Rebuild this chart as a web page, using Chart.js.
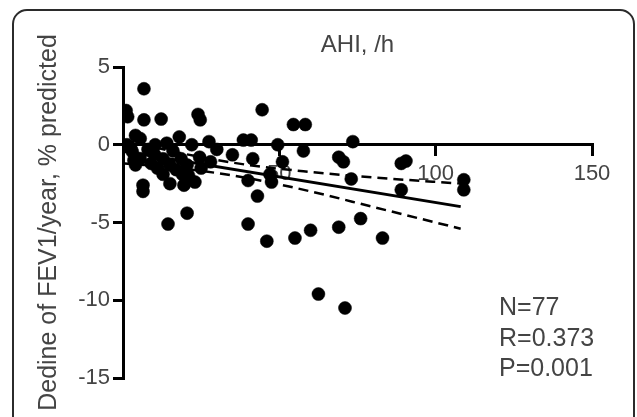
<!DOCTYPE html>
<html>
<head>
<meta charset="utf-8">
<script src="https://cdn.jsdelivr.net/npm/chart.js@4"></script>
<style>
  html, body { margin: 0; padding: 0; background: #fff; overflow: hidden; }
  #wrap { position: relative; width: 637px; height: 417px; }
  #frame {
    position: absolute; left: 12px; top: 9px; width: 619px; height: 480px;
    border: 2px solid #2b2b2b; border-radius: 15px;
  }
  #c { position: absolute; left: 0; top: 0; }
</style>
</head>
<body>
<div id="wrap">
  <div id="frame"></div>
  <canvas id="c" width="637" height="417"></canvas>
</div>
<script>
// AHI (events/h) on x, yearly FEV1 decline (% predicted) on y
const ahi = [0.5, 1, 1.5, 1.3, 2.5, 3, 3.5, 4, 4, 5.5, 5.5, 6.4, 6.4, 6.7, 6.7, 8, 9, 10, 10.3, 11,
  12.2, 12.8, 12.8, 14, 14.4, 15, 15, 16, 17, 18, 18.6, 19, 19.5, 20.5, 20.5, 21, 22, 23, 24, 24.5,
  24.7, 25, 27.5, 28, 30, 35, 40, 40, 41, 41.5, 43, 38.5, 44.5, 46, 47, 47.5, 49.5, 51, 54.5, 55,
  57.7, 58.3, 60, 62.5, 69, 69, 70.5, 71, 73, 73.5, 76, 83, 89, 89, 90.5, 109, 109];
const decline = [-0.1, 2.2, 1.8, 0.0, -0.2, -0.45, -1.0, -1.3, 0.6, 0.4, -0.9, -2.6, -3.0, 3.6, 1.6, -0.3, -1.2, -0.6, 0.0, -1.5,
  1.65, -0.9, -1.9, 0.1, -5.1, -1.3, -2.5, -0.4, -1.6, 0.5, -0.9, -1.9, -2.6, -1.3, -4.4, -2.0, 0.0, -2.4, 1.95, -0.8,
  1.6, -1.5, 0.2, -1.1, -0.3, -0.65, -2.3, -5.1, 0.3, -0.9, -3.3, 0.3, 2.25, -6.2, -1.9, -2.4, 0.0, -1.1, 1.3, -6.0,
  -0.4, 1.3, -5.5, -9.6, -0.8, -5.3, -1.1, -10.5, -2.2, 0.2, -4.75, -6.0, -1.2, -2.9, -1.05, -2.25, -2.9];

// regression line and 95% band
const regX = [0.5, 108];
const regY = [-0.44, -3.98];
const bandX = [0.5, 20, 40, 60, 80, 108];
const upperBand = [0.3, -0.6, -1.3, -1.75, -2.1, -2.5];
const lowerBand = [-1.2, -1.55, -2.15, -3.0, -4.0, -5.4];

const xTicks = [0, 50, 100, 150];
const yTicks = [5, 0, -5, -10, -15];
const statsLines = ['N=77', 'R=0.373', 'P=0.001'];

const textColor = '#444';
const font = 'Liberation Sans, Arial, sans-serif';

function pairs(xs, ys) {
  return xs.map((x, i) => ({ x: x, y: ys[i] }));
}

const labelsPlugin = {
  id: 'labels',
  afterDraw(chart) {
    const ctx = chart.ctx;
    const area = chart.chartArea;
    ctx.save();
    ctx.fillStyle = textColor;
    ctx.font = '24px ' + font;
    ctx.textAlign = 'center';
    ctx.textBaseline = 'alphabetic';
    ctx.fillText('AHI, /h', (area.left + area.right) / 2, 52);
    ctx.font = '25px ' + font;
    ctx.textAlign = 'left';
    statsLines.forEach((t, i) => ctx.fillText(t, 499, 315 + i * 30.5));
    ctx.restore();
  }
};

new Chart(document.getElementById('c'), {
  type: 'scatter',
  data: {
    datasets: [
      {
        type: 'line', data: pairs(regX, regY), borderColor: '#000', borderWidth: 3,
        pointRadius: 0, fill: false, order: 0
      },
      {
        type: 'line', data: pairs(bandX, upperBand), borderColor: '#000', borderWidth: 2.5,
        borderDash: [10, 6], pointRadius: 0, fill: false, tension: 0.4,
        cubicInterpolationMode: 'monotone', order: 0
      },
      {
        type: 'line', data: pairs(bandX, lowerBand), borderColor: '#000', borderWidth: 2.5,
        borderDash: [10, 6], pointRadius: 0, fill: false, tension: 0.4,
        cubicInterpolationMode: 'monotone', order: 0
      },
      {
        data: pairs(ahi, decline), backgroundColor: '#000', borderColor: '#000',
        borderWidth: 0.5, pointRadius: 6.5, order: 1
      }
    ]
  },
  options: {
    responsive: false,
    animation: false,
    layout: { padding: { left: 0, top: 67, right: 45, bottom: 39 } },
    plugins: { legend: { display: false }, tooltip: { enabled: false }, title: { display: false } },
    scales: {
      x: {
        type: 'linear', position: { y: 0 }, min: 0, max: 150,
        afterBuildTicks: (s) => { s.ticks = xTicks.map(v => ({ value: v })); },
        ticks: {
          color: textColor, font: { size: 22, family: font }, padding: 6, maxRotation: 0,
          callback: (v) => (v === 0 ? '' : String(v))
        },
        grid: { drawOnChartArea: false, drawTicks: true, tickLength: 10, color: '#000', lineWidth: 3 },
        border: { display: true, color: '#000', width: 3 }
      },
      y: {
        type: 'linear', position: 'left', min: -15, max: 5,
        afterBuildTicks: (s) => { s.ticks = yTicks.map(v => ({ value: v })); },
        afterFit: (s) => { s.width = 123; },
        ticks: { color: textColor, font: { size: 22, family: font }, padding: 3 },
        grid: { drawOnChartArea: false, drawTicks: true, tickLength: 10, color: '#000', lineWidth: 3 },
        border: { display: true, color: '#000', width: 3 },
        title: {
          display: true, text: 'Dedine of FEV1/year, % predicted', color: textColor,
          font: { size: 25, family: font }, padding: { top: 34, bottom: 0 }
        }
      }
    }
  },
  plugins: [labelsPlugin]
});
</script>
</body>
</html>
